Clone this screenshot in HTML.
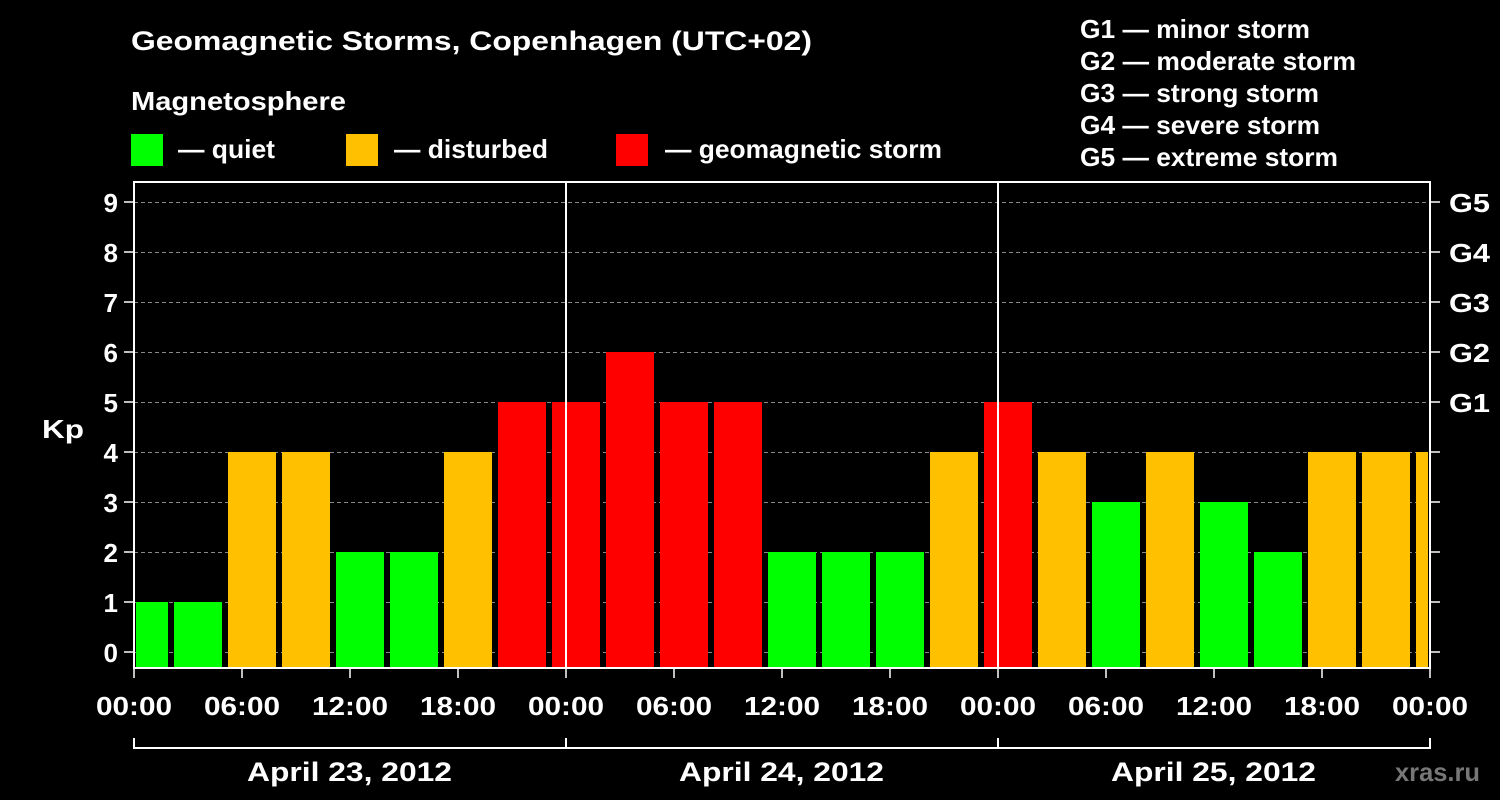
<!DOCTYPE html>
<html><head><meta charset="utf-8"><style>
html,body{margin:0;padding:0;background:#000;}
svg{display:block}
text{font-family:"Liberation Sans",Arial,sans-serif;font-weight:bold;fill:#fff}
</style></head><body>
<svg width="1500" height="800" xmlns="http://www.w3.org/2000/svg">
<rect width="1500" height="800" fill="#000"/>
<text x="131" y="50" font-size="27" textLength="681" lengthAdjust="spacingAndGlyphs">Geomagnetic Storms, Copenhagen (UTC+02)</text>
<text x="131" y="110" font-size="26" textLength="215" lengthAdjust="spacingAndGlyphs">Magnetosphere</text>
<rect x="131" y="134" width="32" height="32" fill="#00ff00"/>
<text x="178" y="158" font-size="26" textLength="97" lengthAdjust="spacingAndGlyphs">— quiet</text>
<rect x="346" y="134" width="32" height="32" fill="#ffc000"/>
<text x="394" y="158" font-size="26" textLength="154" lengthAdjust="spacingAndGlyphs">— disturbed</text>
<rect x="616" y="134" width="32" height="32" fill="#ff0000"/>
<text x="665" y="158" font-size="26" textLength="277" lengthAdjust="spacingAndGlyphs">— geomagnetic storm</text>
<g font-size="26" lengthAdjust="spacingAndGlyphs">
<text x="1080" y="38" textLength="230" lengthAdjust="spacingAndGlyphs">G1 — minor storm</text>
<text x="1080" y="70" textLength="276" lengthAdjust="spacingAndGlyphs">G2 — moderate storm</text>
<text x="1080" y="102" textLength="239" lengthAdjust="spacingAndGlyphs">G3 — strong storm</text>
<text x="1080" y="134" textLength="240" lengthAdjust="spacingAndGlyphs">G4 — severe storm</text>
<text x="1080" y="166" textLength="258" lengthAdjust="spacingAndGlyphs">G5 — extreme storm</text>
</g>
<g stroke="#888" stroke-dasharray="4,3" stroke-width="1">
<line x1="134" x2="1430" y1="202.5" y2="202.5"/><line x1="134" x2="1430" y1="252.5" y2="252.5"/>
<line x1="134" x2="1430" y1="302.5" y2="302.5"/><line x1="134" x2="1430" y1="352.5" y2="352.5"/>
<line x1="134" x2="1430" y1="402.5" y2="402.5"/><line x1="134" x2="1430" y1="452.5" y2="452.5"/>
<line x1="134" x2="1430" y1="502.5" y2="502.5"/><line x1="134" x2="1430" y1="552.5" y2="552.5"/>
<line x1="134" x2="1430" y1="602.5" y2="602.5"/><line x1="134" x2="1430" y1="652.5" y2="652.5"/>
</g>
<g id="bars"></g>
<g stroke="#fff" stroke-width="2" fill="none">
<rect x="134" y="182" width="1296" height="486"/>
<line x1="566" x2="566" y1="182" y2="668"/><line x1="998" x2="998" y1="182" y2="668"/>
<polyline points="134,738 134,748 1430,748 1430,738"/>
<line x1="566" x2="566" y1="738" y2="748"/><line x1="998" x2="998" y1="738" y2="748"/>
</g>
<g id="ticks" stroke="#fff" stroke-width="1.5"></g>
<g font-size="26" text-anchor="end" id="ylab"></g>
<g font-size="26">
<text x="1449" y="212" textLength="41" lengthAdjust="spacingAndGlyphs">G5</text><text x="1449" y="262" textLength="41" lengthAdjust="spacingAndGlyphs">G4</text><text x="1449" y="312" textLength="41" lengthAdjust="spacingAndGlyphs">G3</text><text x="1449" y="362" textLength="41" lengthAdjust="spacingAndGlyphs">G2</text><text x="1449" y="412" textLength="41" lengthAdjust="spacingAndGlyphs">G1</text>
</g>
<text x="42" y="438" font-size="26" textLength="42" lengthAdjust="spacingAndGlyphs">Kp</text>
<g font-size="26" id="xlab"></g>
<g font-size="27">
<text x="247" y="781" textLength="205" lengthAdjust="spacingAndGlyphs">April 23, 2012</text><text x="679" y="781" textLength="205" lengthAdjust="spacingAndGlyphs">April 24, 2012</text><text x="1111" y="781" textLength="205" lengthAdjust="spacingAndGlyphs">April 25, 2012</text>
</g>
<text x="1395" y="781" font-size="26" textLength="85" lengthAdjust="spacingAndGlyphs" style="fill:#777">xras.ru</text>
<script>
var ns="http://www.w3.org/2000/svg";
function el(p,t,a,txt){var e=document.createElementNS(ns,t);for(var k in a)e.setAttribute(k,a[k]);if(txt!==undefined)e.textContent=txt;document.getElementById(p).appendChild(e);}
var v=[1,1,4,4,2,2,4,5,5,6,5,5,2,2,2,4,5,4,3,4,3,2,4,4,4];
v.forEach(function(k,i){var x1=120+54*i,x2=x1+48;if(x1<136)x1=136;if(x2>1428)x2=1428;
var c=k<4?"#00ff00":(k<5?"#ffc000":"#ff0000");var y=652-50*k;
el("bars","rect",{x:x1,y:y,width:x2-x1,height:668-y,fill:c});});
for(var i=0;i<=9;i++){var y=652-50*i;el("ylab","text",{x:118,y:y+10},String(i));
el("ticks","line",{x1:124,x2:134,y1:y,y2:y});el("ticks","line",{x1:1430,x2:1440,y1:y,y2:y});}
var lab=["00:00","06:00","12:00","18:00"];
for(var i=0;i<=12;i++){var x=134+108*i;el("xlab","text",{x:x-38,y:715,textLength:76,lengthAdjust:"spacingAndGlyphs"},lab[i%4]);
el("ticks","line",{x1:x,x2:x,y1:668,y2:678});}
</script>
</svg>
</body></html>
